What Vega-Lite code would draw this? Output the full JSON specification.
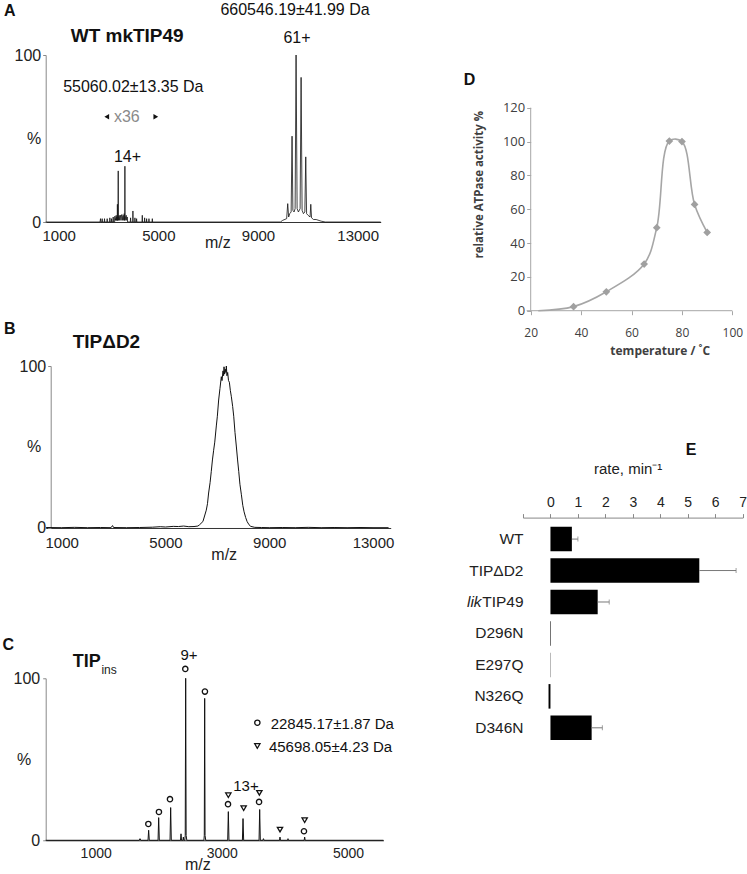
{
  "$schema": "https://vega.github.io/schema/vega-lite/v6.json",
  "padding": {"left": 1.7, "top": 2, "right": 0, "bottom": 0},
  "bounds": "flush",
  "spacing": 477.3,
  "resolve": {"scale": {"shape": "independent"}},
  "config": {
    "font": "Liberation Sans",
    "view": {"stroke": null},
    "axis": {"grid": false, "labelFlush": false, "labelOverlap": false, "labelFont": "Liberation Sans", "titleFont": "Liberation Sans", "labelColor": "#222", "titleColor": "#222", "titleFontWeight": "normal", "domainColor": "#888", "tickColor": "#888"}
  },
  "hconcat": [
    {
      "bounds": "flush",
      "spacing": 623.3,
      "resolve": {"scale": {"shape": "independent"}},
      "vconcat": [
        {
          "bounds": "flush",
          "spacing": 144,
          "resolve": {"scale": {"shape": "independent"}},
          "vconcat": [
            {
              "width": 335,
              "height": 167,
              "layer": [
                {
                  "data": {"values": [
                    {"mz":478,"pct":0},{"mz":2660,"pct":0},{"mz":2678,"pct":2},{"mz":2690,"pct":0},{"mz":2735,"pct":0},{"mz":2745,"pct":2},{"mz":2755,"pct":0},{"mz":2830,"pct":0},{"mz":2839,"pct":2},{"mz":2848,"pct":0},{"mz":2936,"pct":0},{"mz":2946,"pct":2},{"mz":2956,"pct":0},{"mz":3043,"pct":0},{"mz":3053,"pct":2.5},{"mz":3063,"pct":0},{"mz":3110,"pct":0},{"mz":3120,"pct":2},{"mz":3130,"pct":0},{"mz":3177,"pct":0},{"mz":3187,"pct":3},{"mz":3197,"pct":0},{"mz":3245,"pct":0},{"mz":3255,"pct":3.5},{"mz":3265,"pct":1},{"mz":3280,"pct":2},{"mz":3295,"pct":1},{"mz":3308,"pct":4},{"mz":3320,"pct":1},{"mz":3335,"pct":3},{"mz":3350,"pct":1},{"mz":3356,"pct":10.6},{"mz":3362,"pct":1},{"mz":3382,"pct":1},{"mz":3389,"pct":30.6},{"mz":3396,"pct":1},{"mz":3410,"pct":3},{"mz":3429,"pct":4},{"mz":3445,"pct":1},{"mz":3460,"pct":3},{"mz":3483,"pct":4},{"mz":3500,"pct":1},{"mz":3515,"pct":3.5},{"mz":3536,"pct":4.5},{"mz":3555,"pct":1},{"mz":3570,"pct":3},{"mz":3590,"pct":4},{"mz":3610,"pct":1},{"mz":3630,"pct":5},{"mz":3645,"pct":1},{"mz":3650,"pct":1},{"mz":3657,"pct":33.4},{"mz":3664,"pct":1},{"mz":3690,"pct":3},{"mz":3711,"pct":4},{"mz":3730,"pct":1},{"mz":3751,"pct":3},{"mz":3765,"pct":0},{"mz":3875,"pct":0},{"mz":3885,"pct":2.5},{"mz":3895,"pct":0},{"mz":3970,"pct":0},{"mz":3979,"pct":6.6},{"mz":3988,"pct":0},{"mz":4050,"pct":0},{"mz":4060,"pct":2.5},{"mz":4070,"pct":0},{"mz":4117,"pct":0},{"mz":4127,"pct":2},{"mz":4137,"pct":0},{"mz":4345,"pct":0},{"mz":4355,"pct":4},{"mz":4365,"pct":0},{"mz":4440,"pct":0},{"mz":4449,"pct":2.5},{"mz":4458,"pct":0},{"mz":4520,"pct":0},{"mz":4529,"pct":2},{"mz":4538,"pct":0},{"mz":4613,"pct":0},{"mz":4623,"pct":2},{"mz":4633,"pct":0},{"mz":4748,"pct":0},{"mz":4758,"pct":2},{"mz":4768,"pct":0},{"mz":9900,"pct":0},{"mz":9991,"pct":1},{"mz":10150,"pct":2},{"mz":10193,"pct":11},{"mz":10230,"pct":3},{"mz":10274,"pct":5},{"mz":10330,"pct":6},{"mz":10367,"pct":51.4},{"mz":10400,"pct":7},{"mz":10448,"pct":6},{"mz":10490,"pct":8},{"mz":10528,"pct":100},{"mz":10570,"pct":8},{"mz":10622,"pct":6},{"mz":10690,"pct":8},{"mz":10730,"pct":86.6},{"mz":10770,"pct":7},{"mz":10823,"pct":5},{"mz":10880,"pct":6},{"mz":10917,"pct":39},{"mz":10950,"pct":5},{"mz":11011,"pct":4},{"mz":11090,"pct":3},{"mz":11119,"pct":10.6},{"mz":11150,"pct":2.5},{"mz":11226,"pct":1.5},{"mz":11333,"pct":1.5},{"mz":11535,"pct":0.5},{"mz":11700,"pct":0},{"mz":13925,"pct":0}
                  ]},
                  "mark": {"type": "line", "color": "#111", "strokeWidth": 0.8},
                  "encoding": {
                    "x": {"field": "mz", "type": "quantitative", "scale": {"domain": [478, 13925], "nice": false, "zero": false},
                      "axis": {"values": [1000, 5000, 9000, 13000], "format": "d", "labelFontSize": 15, "tickSize": 0, "labelPadding": 6, "domainColor": "#333", "title": "m/z", "titleFontSize": 16, "titleX": 171.7, "titleY": 25, "titleAlign": "center", "titleBaseline": "alphabetic"}},
                    "y": {"field": "pct", "type": "quantitative", "scale": {"domain": [0, 100], "nice": false},
                      "axis": {"values": [0, 50, 100], "labelExpr": "datum.value == 50 ? '%' : datum.label", "labelFontSize": 16, "tickSize": 3, "tickOpacity": {"condition": {"test": "datum.value == 50", "value": 0}, "value": 1}, "labelPadding": 2, "title": null}}
                  }
                },
                {
                  "data": {"values": [
                    {"mz": 10486, "pct": 126.9, "label": "660546.19±41.99 Da"},
                    {"mz": 10566, "pct": 110, "label": "61+"},
                    {"mz": 3995, "pct": 81, "label": "55060.02±13.35 Da"},
                    {"mz": 3762, "pct": 39.1, "label": "14+"}
                  ]},
                  "mark": {"type": "text", "fontSize": 16, "align": "center", "baseline": "middle", "color": "#111"},
                  "encoding": {"x": {"field": "mz", "type": "quantitative"}, "y": {"field": "pct", "type": "quantitative"}, "text": {"field": "label"}}
                },
                {
                  "data": {"values": [{"mz": 3734, "pct": 63, "label": "x36"}]},
                  "mark": {"type": "text", "fontSize": 16, "align": "center", "baseline": "middle", "color": "#8a8a8a"},
                  "encoding": {"x": {"field": "mz", "type": "quantitative"}, "y": {"field": "pct", "type": "quantitative"}, "text": {"field": "label"}}
                },
                {
                  "data": {"values": [{"mz": 2930, "pct": 63, "side": "left"}, {"mz": 4899, "pct": 63, "side": "right"}]},
                  "mark": {"type": "point", "filled": true, "color": "#111", "size": 30, "opacity": 1},
                  "encoding": {"x": {"field": "mz", "type": "quantitative"}, "y": {"field": "pct", "type": "quantitative"},
                    "shape": {"field": "side", "type": "nominal", "scale": {"domain": ["left", "right"], "range": ["triangle-left", "triangle-right"]}, "legend": null}}
                },
                {
                  "data": {"values": [{"mz": -1198, "pct": 126.6, "label": "A"}]},
                  "mark": {"type": "text", "fontSize": 16, "fontWeight": "bold", "align": "left", "baseline": "middle", "color": "#111"},
                  "encoding": {"x": {"field": "mz", "type": "quantitative"}, "y": {"field": "pct", "type": "quantitative"}, "text": {"field": "label"}}
                },
                {
                  "data": {"values": [{"mz": 1483, "pct": 111.4, "label": "WT mkTIP49"}]},
                  "mark": {"type": "text", "fontSize": 19, "fontWeight": "bold", "align": "left", "baseline": "middle", "color": "#111"},
                  "encoding": {"x": {"field": "mz", "type": "quantitative"}, "y": {"field": "pct", "type": "quantitative"}, "text": {"field": "label"}}
                }
              ]
            },
            {
              "width": 345,
              "height": 162,
              "layer": [
                {
                  "data": {"values": [
                    {"mz":400,"pct":0.3},{"mz":1000,"pct":0.2},{"mz":1500,"pct":0.4},{"mz":2000,"pct":0.2},{"mz":2500,"pct":0.3},{"mz":2900,"pct":0.2},{"mz":2960,"pct":1.5},{"mz":3000,"pct":0.3},{"mz":3500,"pct":0.2},{"mz":4000,"pct":0.3},{"mz":4500,"pct":0.5},{"mz":4800,"pct":0.8},{"mz":5000,"pct":0.6},{"mz":5300,"pct":1},{"mz":5500,"pct":0.9},{"mz":5700,"pct":1.2},{"mz":5900,"pct":0.8},{"mz":6100,"pct":0.9},{"mz":6250,"pct":1.2},{"mz":6315,"pct":2},{"mz":6444,"pct":4},{"mz":6573,"pct":11},{"mz":6620,"pct":15},{"mz":6663,"pct":21.6},{"mz":6720,"pct":28},{"mz":6766,"pct":35},{"mz":6810,"pct":42},{"mz":6857,"pct":48},{"mz":6900,"pct":53},{"mz":6960,"pct":63},{"mz":7000,"pct":69},{"mz":7050,"pct":79},{"mz":7100,"pct":86},{"mz":7153,"pct":93.4},{"mz":7180,"pct":91},{"mz":7218,"pct":97},{"mz":7240,"pct":94},{"mz":7257,"pct":99.5},{"mz":7280,"pct":95},{"mz":7308,"pct":98},{"mz":7330,"pct":96},{"mz":7347,"pct":100},{"mz":7370,"pct":94},{"mz":7398,"pct":96},{"mz":7430,"pct":91},{"mz":7463,"pct":90},{"mz":7500,"pct":85},{"mz":7540,"pct":81},{"mz":7590,"pct":75},{"mz":7631,"pct":69},{"mz":7680,"pct":59},{"mz":7734,"pct":50},{"mz":7780,"pct":42},{"mz":7824,"pct":35},{"mz":7870,"pct":27},{"mz":7927,"pct":20.5},{"mz":7980,"pct":14},{"mz":8030,"pct":10},{"mz":8090,"pct":6.5},{"mz":8147,"pct":4},{"mz":8220,"pct":2},{"mz":8289,"pct":1},{"mz":8443,"pct":0.4},{"mz":8700,"pct":0.3},{"mz":9000,"pct":0.2},{"mz":9500,"pct":0.3},{"mz":10000,"pct":0.2},{"mz":10500,"pct":0.4},{"mz":11000,"pct":0.2},{"mz":11500,"pct":0.3},{"mz":12000,"pct":0.2},{"mz":12500,"pct":0.3},{"mz":13000,"pct":0.2},{"mz":13600,"pct":0.2}
                  ]},
                  "mark": {"type": "line", "color": "#111", "strokeWidth": 1},
                  "encoding": {
                    "x": {"field": "mz", "type": "quantitative", "scale": {"domain": [383, 13682], "nice": false, "zero": false},
                      "axis": {"values": [1000, 5000, 9000, 13000], "format": "d", "labelFontSize": 15, "tickSize": 0, "labelPadding": 8, "domainColor": "#333", "title": "m/z", "titleFontSize": 16, "titleX": 178, "titleY": 32, "titleAlign": "center", "titleBaseline": "alphabetic"}},
                    "y": {"field": "pct", "type": "quantitative", "scale": {"domain": [0, 100], "nice": false},
                      "axis": {"values": [0, 50, 100], "offset": -5, "labelExpr": "datum.value == 50 ? '%' : datum.label", "labelFontSize": 16, "tickSize": 3, "tickOpacity": {"condition": {"test": "datum.value == 50", "value": 0}, "value": 1}, "labelPadding": {"condition": {"test": "datum.value == 50", "value": 7}, "value": 2}, "title": null}}
                  }
                },
                {
                  "data": {"values": [{"mz": -1224, "pct": 122.8, "label": "B"}]},
                  "mark": {"type": "text", "fontSize": 16, "fontWeight": "bold", "align": "left", "baseline": "middle", "color": "#111"},
                  "encoding": {"x": {"field": "mz", "type": "quantitative"}, "y": {"field": "pct", "type": "quantitative"}, "text": {"field": "label"}}
                },
                {
                  "data": {"values": [{"mz": 1424, "pct": 115, "label": "TIPΔD2"}]},
                  "mark": {"type": "text", "fontSize": 19, "fontWeight": "bold", "align": "left", "baseline": "middle", "color": "#111"},
                  "encoding": {"x": {"field": "mz", "type": "quantitative"}, "y": {"field": "pct", "type": "quantitative"}, "text": {"field": "label"}}
                }
              ]
            }
          ]
        },
        {
          "width": 337.7,
          "height": 162,
          "layer": [
            {
              "data": {"values": [
                {"mz":208,"pct":0},{"mz":1690,"pct":0},{"mz":1703,"pct":1},{"mz":1716,"pct":0},{"mz":1830,"pct":0},{"mz":1840,"pct":6.2},{"mz":1850,"pct":0},{"mz":1989,"pct":0},{"mz":1999,"pct":14},{"mz":2009,"pct":0},{"mz":2179,"pct":0},{"mz":2189,"pct":20.2},{"mz":2199,"pct":0},{"mz":2345,"pct":0},{"mz":2353,"pct":4},{"mz":2361,"pct":0},{"mz":2383,"pct":0},{"mz":2390,"pct":2},{"mz":2397,"pct":0},{"mz":2413,"pct":0},{"mz":2420,"pct":3},{"mz":2427,"pct":100},{"mz":2434,"pct":3},{"mz":2445,"pct":0},{"mz":2716,"pct":0},{"mz":2722,"pct":3},{"mz":2728,"pct":87.6},{"mz":2734,"pct":3},{"mz":2745,"pct":0},{"mz":3093,"pct":0},{"mz":3103,"pct":17.7},{"mz":3113,"pct":0},{"mz":3326,"pct":0},{"mz":3336,"pct":13.4},{"mz":3346,"pct":0},{"mz":3590,"pct":0},{"mz":3600,"pct":19},{"mz":3610,"pct":0},{"mz":3650,"pct":0},{"mz":3660,"pct":1},{"mz":3670,"pct":0},{"mz":3914,"pct":0},{"mz":3922,"pct":2},{"mz":3930,"pct":0},{"mz":4043,"pct":0},{"mz":4049,"pct":1},{"mz":4055,"pct":0},{"mz":4305,"pct":0},{"mz":4313,"pct":2},{"mz":4321,"pct":0},{"mz":5561,"pct":0}
              ]},
              "mark": {"type": "line", "color": "#111", "strokeWidth": 1},
              "encoding": {
                "x": {"field": "mz", "type": "quantitative", "scale": {"domain": [208, 5561], "nice": false, "zero": false},
                  "axis": {"values": [1000, 3000, 5000], "format": "d", "labelFontSize": 14, "tickSize": 0, "labelPadding": 6, "domainColor": "#222", "title": "m/z", "titleFontSize": 16, "titleX": 151.7, "titleY": 29, "titleAlign": "center", "titleBaseline": "alphabetic"}},
                "y": {"field": "pct", "type": "quantitative", "scale": {"domain": [0, 100], "nice": false},
                  "axis": {"values": [0, 50, 100], "labelExpr": "datum.value == 50 ? '%' : datum.label", "labelFontSize": 16, "tickSize": 3, "tickOpacity": {"condition": {"test": "datum.value == 50", "value": 0}, "value": 1}, "labelPadding": {"condition": {"test": "datum.value == 50", "value": 12}, "value": 3}, "title": null}}
              }
            },
            {
              "data": {"values": [
                {"mz":1835,"pct":10.1,"ion":"monomer"},{"mz":2003,"pct":17.5,"ion":"monomer"},{"mz":2178,"pct":25.4,"ion":"monomer"},{"mz":2421,"pct":105.8,"ion":"monomer"},{"mz":2732,"pct":91.8,"ion":"monomer"},{"mz":3098,"pct":22.3,"ion":"monomer"},{"mz":3590,"pct":23.7,"ion":"monomer"},{"mz":4302,"pct":5.6,"ion":"monomer"},
                {"mz":3103,"pct":27.8,"ion":"dimer"},{"mz":3346,"pct":19.8,"ion":"dimer"},{"mz":3595,"pct":29.3,"ion":"dimer"},{"mz":3922,"pct":6.6,"ion":"dimer"},{"mz":4313,"pct":12.4,"ion":"dimer"},
                {"mz":3563,"pct":72.6,"ion":"monomer"},{"mz":3563,"pct":58.2,"ion":"dimer"}
              ]},
              "mark": {"type": "point", "filled": false, "stroke": "#111", "strokeWidth": 1.3, "size": 28, "opacity": 1},
              "encoding": {"x": {"field": "mz", "type": "quantitative"}, "y": {"field": "pct", "type": "quantitative"},
                "shape": {"field": "ion", "type": "nominal", "scale": {"domain": ["monomer", "dimer"], "range": ["circle", "triangle-down"]}, "legend": null}}
            },
            {
              "data": {"values": [{"mz": 2479, "pct": 114.2, "label": "9+"}, {"mz": 3382, "pct": 33.3, "label": "13+"}]},
              "mark": {"type": "text", "fontSize": 15, "align": "center", "baseline": "middle", "color": "#111"},
              "encoding": {"x": {"field": "mz", "type": "quantitative"}, "y": {"field": "pct", "type": "quantitative"}, "text": {"field": "label"}}
            },
            {
              "data": {"values": [{"mz": 3774, "pct": 72, "label": "22845.17±1.87 Da"}, {"mz": 3747, "pct": 57.6, "label": "45698.05±4.23 Da"}]},
              "mark": {"type": "text", "fontSize": 15, "align": "left", "baseline": "middle", "color": "#111"},
              "encoding": {"x": {"field": "mz", "type": "quantitative"}, "y": {"field": "pct", "type": "quantitative"}, "text": {"field": "label"}}
            },
            {
              "data": {"values": [{"mz": -478, "pct": 120.4, "label": "C"}]},
              "mark": {"type": "text", "fontSize": 16, "fontWeight": "bold", "align": "left", "baseline": "middle", "color": "#111"},
              "encoding": {"x": {"field": "mz", "type": "quantitative"}, "y": {"field": "pct", "type": "quantitative"}, "text": {"field": "label"}}
            },
            {
              "data": {"values": [{"mz": 636, "pct": 110.1, "label": "TIP"}]},
              "mark": {"type": "text", "fontSize": 18, "fontWeight": "bold", "align": "left", "baseline": "middle", "color": "#111"},
              "encoding": {"x": {"field": "mz", "type": "quantitative"}, "y": {"field": "pct", "type": "quantitative"}, "text": {"field": "label"}}
            },
            {
              "data": {"values": [{"mz": 1091, "pct": 104.9, "label": "ins"}]},
              "mark": {"type": "text", "fontSize": 12, "align": "left", "baseline": "middle", "color": "#222"},
              "encoding": {"x": {"field": "mz", "type": "quantitative"}, "y": {"field": "pct", "type": "quantitative"}, "text": {"field": "label"}}
            }
          ]
        }
      ]
    },
    {
      "bounds": "flush",
      "spacing": 206.6,
      "resolve": {"scale": {"shape": "independent"}},
      "vconcat": [
        {
          "width": 209.4,
          "height": 255.7,
          "layer": [
            {
              "data": {"values": [
                {"temp": 23, "act": 0}, {"temp": 37, "act": 2.4}, {"temp": 50, "act": 11.2}, {"temp": 65, "act": 27.6}, {"temp": 70, "act": 49.1}, {"temp": 75, "act": 100.3}, {"temp": 80, "act": 100}, {"temp": 85, "act": 62.8}, {"temp": 90, "act": 46.3}
              ]},
              "mark": {"type": "line", "interpolate": "catmull-rom", "color": "#a6a6a6", "strokeWidth": 1.6},
              "encoding": {
                "x": {"field": "temp", "type": "quantitative", "scale": {"domain": [16.946, 100], "nice": false, "zero": false},
                  "axis": {"values": [20, 40, 60, 80, 100], "domain": false, "tickSize": 4, "tickColor": "#a6a6a6", "labelFont": "Open Sans", "labelFontSize": 12, "labelColor": "#404040", "labelPadding": 13, "title": "temperature / ˚C", "titleFont": "Open Sans", "titleFontWeight": "bold", "titleFontSize": 12, "titleColor": "#404040", "titleX": 136.7, "titleY": 39.5, "titleAlign": "center", "titleBaseline": "middle"}},
                "y": {"field": "act", "type": "quantitative", "scale": {"domain": [0, 151.15], "nice": false},
                  "axis": {"values": [0, 20, 40, 60, 80, 100, 120], "domain": false, "offset": -7.7, "tickSize": 4, "tickColor": "#a6a6a6", "labelFont": "Open Sans", "labelFontSize": 13, "labelColor": "#404040", "labelPadding": 2, "title": "relative ATPase activity %", "titleFont": "Open Sans", "titleFontWeight": "bold", "titleFontSize": 11.5, "titleColor": "#404040", "titleX": -51, "titleY": 129.2, "titleAlign": "center", "titleBaseline": "middle", "titleAngle": -90}}
              }
            },
            {
              "data": {"values": [
                {"temp": 23, "act": 0}, {"temp": 37, "act": 2.4}, {"temp": 50, "act": 11.2}, {"temp": 65, "act": 27.6}, {"temp": 70, "act": 49.1}, {"temp": 75, "act": 100.3}, {"temp": 80, "act": 100}, {"temp": 85, "act": 62.8}, {"temp": 90, "act": 46.3}
              ]},
              "transform": [{"filter": "datum.temp > 30"}],
              "mark": {"type": "point", "shape": "diamond", "filled": true, "color": "#a0a0a0", "size": 60, "opacity": 1},
              "encoding": {"x": {"field": "temp", "type": "quantitative"}, "y": {"field": "act", "type": "quantitative"}}
            },
            {
              "data": {"values": [{}]},
              "mark": {"type": "rule", "color": "#a6a6a6", "strokeWidth": 1},
              "encoding": {"x": {"datum": 20}, "y": {"datum": 0}, "y2": {"datum": 120}}
            },
            {
              "data": {"values": [{}]},
              "mark": {"type": "rule", "color": "#a6a6a6", "strokeWidth": 1},
              "encoding": {"x": {"datum": 18.4}, "x2": {"datum": 100}, "y": {"datum": 0}}
            },
            {
              "data": {"values": [{"temp": -6.57, "act": 136.1, "label": "D"}]},
              "mark": {"type": "text", "fontSize": 16, "fontWeight": "bold", "align": "left", "baseline": "middle", "color": "#111"},
              "encoding": {"x": {"field": "temp", "type": "quantitative"}, "y": {"field": "act", "type": "quantitative"}, "text": {"field": "label"}}
            }
          ]
        },
        {
          "width": 219.7,
          "height": 231.7,
          "title": {"text": "E", "anchor": "start", "frame": "group", "dx": 162.7, "offset": 4, "fontSize": 16, "fontWeight": "bold", "font": "Liberation Sans", "color": "#111"},
          "data": {"values": [
            {"cat": "WT", "rate": 0.78, "hi": 1.0},
            {"cat": "TIPΔD2", "rate": 5.42, "hi": 6.76},
            {"cat": "likTIP49", "rate": 1.72, "hi": 2.14},
            {"cat": "D296N", "rate": 0.02, "hi": 0.02},
            {"cat": "E297Q", "rate": 0.01, "hi": 0.01},
            {"cat": "N326Q", "rate": -0.07, "hi": -0.07},
            {"cat": "D346N", "rate": 1.5, "hi": 1.89}
          ]},
          "layer": [
            {
              "mark": {"type": "bar", "color": "#000"},
              "encoding": {
                "y": {"field": "cat", "type": "nominal", "scale": {"domain": ["WT", "TIPΔD2", "likTIP49", "D296N", "E297Q", "N326Q", "D346N"], "paddingInner": 0.22, "paddingOuter": 0.293},
                  "axis": {"domain": false, "ticks": false, "labelPadding": 0, "labelFontSize": 15.5, "labelExpr": "datum.value == 'likTIP49' ? 'TIP49' : datum.label", "title": null}},
                "x": {"field": "rate", "type": "quantitative", "scale": {"domain": [-1, 7], "nice": false},
                  "axis": {"orient": "top", "tickCount": 8, "tickMinStep": 1, "format": "d", "labelExpr": "datum.value < 0 ? '' : datum.label", "labelOverlap": false, "labelBound": false, "labelSeparation": 0, "tickSize": 4, "labelPadding": 4, "labelFontSize": 14, "domainColor": "#888", "title": "rate, min⁻¹", "titleFontSize": 15, "titleX": 104.7, "titleY": -49, "titleAlign": "center", "titleBaseline": "middle"}}
              }
            },
            {
              "transform": [{"filter": "datum.hi > datum.rate"}],
              "mark": {"type": "rule", "color": "#777", "strokeWidth": 1},
              "encoding": {"y": {"field": "cat", "type": "nominal"}, "x": {"field": "rate", "type": "quantitative"}, "x2": {"field": "hi"}}
            },
            {
              "transform": [{"filter": "datum.hi > datum.rate"}],
              "mark": {"type": "tick", "color": "#777", "thickness": 1, "size": 5},
              "encoding": {"y": {"field": "cat", "type": "nominal"}, "x": {"field": "hi", "type": "quantitative"}}
            },
            {
              "data": {"values": [{"cat": "likTIP49", "rate": -2.508, "label": "lik"}]},
              "mark": {"type": "text", "fontSize": 15.5, "fontStyle": "italic", "align": "right", "baseline": "middle", "color": "#222"},
              "encoding": {"y": {"field": "cat", "type": "nominal"}, "x": {"field": "rate", "type": "quantitative"}, "text": {"field": "label"}}
            }
          ]
        }
      ]
    }
  ]
}
